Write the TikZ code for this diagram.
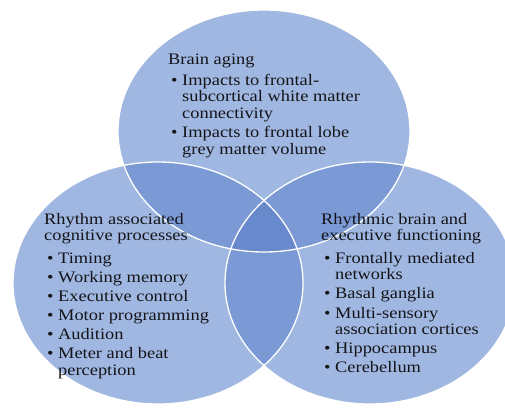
\documentclass[tikz,border=0pt]{standalone}
\usepackage{fontspec}
\setmainfont{Liberation Serif}[FakeStretch=1.15]
\definecolor{base}{RGB}{160,184,225}
\definecolor{dbl}{RGB}{122,153,213}
\definecolor{tpl}{RGB}{104,138,205}
\definecolor{ink}{RGB}{20,20,25}
\newcommand\bitem[1]{\hspace*{3pt}\makebox[11pt][l]{\textbullet}#1}
\newcommand\bcont[1]{\hspace*{14pt}#1}
\newcommand\blines[1]{\parbox[t]{220pt}{\raggedright\fontsize{16}{16.6}\selectfont #1}}
\begin{document}
\begin{tikzpicture}[x=1pt,y=-1pt,
  blk/.style={anchor=base west,inner sep=0pt,text=ink,font=\fontsize{16}{16.6}\selectfont},
  rim/.style={draw=white,line width=1.3pt}]
\useasboundingbox (0,0) rectangle (505,410);
\def\topE{(264,131) ellipse [x radius=146pt, y radius=121pt]}
\def\leftE{(158,283) ellipse [x radius=145pt, y radius=121pt]}
\def\rightE{(370,283) ellipse [x radius=145pt, y radius=121pt]}
\fill[base] \topE;
\fill[base] \leftE;
\fill[base] \rightE;
\begin{scope}\clip \topE; \fill[dbl] \leftE; \fill[dbl] \rightE; \end{scope}
\begin{scope}\clip \leftE; \fill[dbl] \rightE; \end{scope}
\begin{scope}\clip \topE; \clip \leftE; \fill[tpl] \rightE; \end{scope}
\draw[rim] \topE;
\draw[rim] \leftE;
\draw[rim] \rightE;
\node[blk] (top) at (168,64) {\blines{Brain aging\\[4.5pt]
\bitem{Impacts to frontal-}\\
\bcont{subcortical white matter}\\
\bcont{connectivity}\\[2.5pt]
\bitem{Impacts to frontal lobe}\\
\bcont{grey matter volume}}};
\node[blk] (left) at (44,224) {\blines{Rhythm associated\\
cognitive processes\\[6pt]
\bitem{Timing}\\[2.5pt]
\bitem{Working memory}\\[2.5pt]
\bitem{Executive control}\\[2.5pt]
\bitem{Motor programming}\\[2.5pt]
\bitem{Audition}\\[2.5pt]
\bitem{Meter and beat}\\
\bcont{perception}}};
\node[blk] (right) at (321,224) {\blines{Rhythmic brain and\\
executive functioning\\[6pt]
\bitem{Frontally mediated}\\
\bcont{networks}\\[2.5pt]
\bitem{Basal ganglia}\\[2.5pt]
\bitem{Multi-sensory}\\
\bcont{association cortices}\\[2.5pt]
\bitem{Hippocampus}\\[2.5pt]
\bitem{Cerebellum}}};
\end{tikzpicture}
\end{document}
